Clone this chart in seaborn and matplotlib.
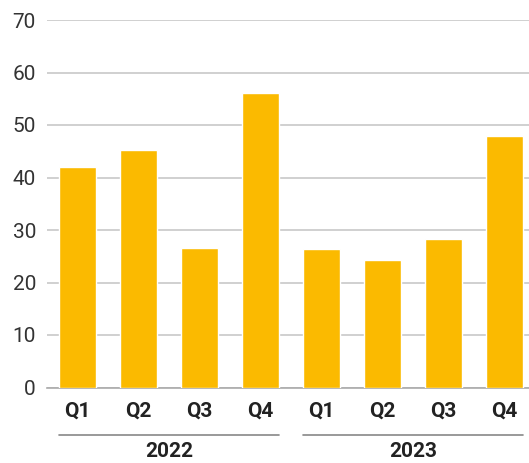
import matplotlib
matplotlib.use("Agg")
import matplotlib.pyplot as plt
import seaborn as sns
import pandas as pd

years = ["2022", "2023"]
quarters = ["Q1", "Q2", "Q3", "Q4"]
values_2022 = [42.0, 45.3, 26.6, 56.1]
values_2023 = [26.4, 24.3, 28.3, 47.9]
y_ticks = [0, 10, 20, 30, 40, 50, 60, 70]

rows = []
for year, vals in zip(years, [values_2022, values_2023]):
    for q, v in zip(quarters, vals):
        rows.append({"period": f"{year} {q}", "quarter": q, "year": year, "value": v})
df = pd.DataFrame(rows)

sns.set_theme(style="white")
plt.rcParams["font.family"] = ["Roboto", "DejaVu Sans"]

fig = plt.figure(figsize=(5.29, 4.63), dpi=100)
ax = fig.add_axes([47 / 529, 75.5 / 463, (529 - 47) / 529, (387.5 - 20) / 463])

sns.barplot(data=df, x="period", y="value", color="#FBBA00", saturation=1,
            width=0.6, ax=ax, zorder=3)

ax.set_ylim(0, 70)
ax.set_xlim(-0.5, 7.4)
ax.set_yticks(y_ticks)
ax.set_yticklabels([str(t) for t in y_ticks], fontsize=15, color="#333333")
ax.yaxis.grid(True, color="#c8c8c8", linewidth=1.2, zorder=0)
ax.set_axisbelow(True)
for side in ["top", "right", "left"]:
    ax.spines[side].set_visible(False)
ax.spines["bottom"].set_color("#aaaaaa")
ax.spines["bottom"].set_linewidth(1.2)
ax.tick_params(axis="y", length=0, pad=8)
ax.tick_params(axis="x", length=0, pad=10)
ax.set_xticks(range(len(df)))
ax.set_xticklabels(df["quarter"], fontsize=15, fontweight="bold", color="#222222")
ax.set_xlabel("")
ax.set_ylabel("")

# Year group brackets below the quarter labels
trans = ax.get_xaxis_transform()
for i, year in enumerate(years):
    start = i * len(quarters) - 0.3
    end = (i + 1) * len(quarters) - 1 + 0.3
    ax.plot([start, end], [-0.128, -0.128], transform=trans, color="#888888",
            linewidth=1.2, clip_on=False)
    ax.text((start + end) / 2, -0.175, year, transform=trans, ha="center", va="center",
            fontsize=15, fontweight="bold", color="#222222")

fig.savefig("out.png", dpi=100)
